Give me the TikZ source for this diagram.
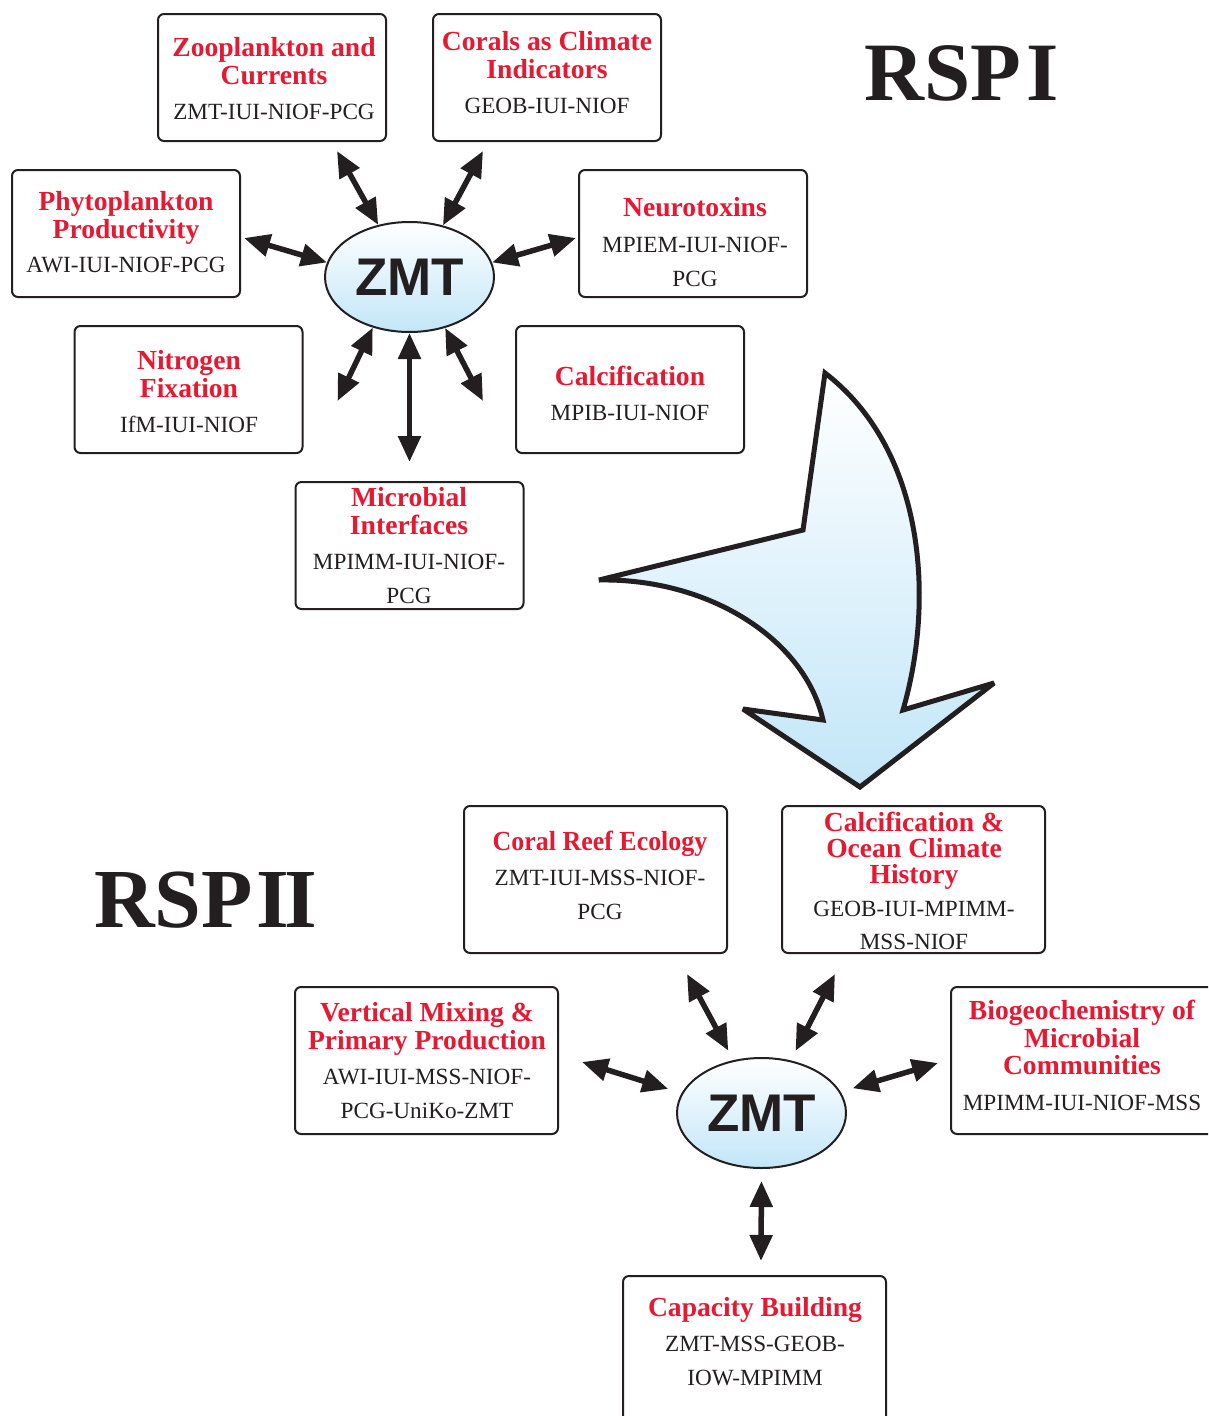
\documentclass[tikz,border=0pt]{standalone}
\usepackage{fontspec}
\setmainfont{Liberation Serif}
\newfontfamily\zmtfont{Liberation Sans}
\usetikzlibrary{arrows.meta,shapes.geometric,calc}
\definecolor{ttlred}{RGB}{230,25,50}
\definecolor{ink}{RGB}{35,31,32}
\definecolor{lblue}{RGB}{194,230,248}
\begin{document}
\begin{tikzpicture}[x=1pt,y=-1pt,
  boxA/.style={draw=ink,line width=2pt,rounded corners=6pt,fill=white,minimum width=228pt,minimum height=127pt,inner sep=0pt},
  boxB/.style={draw=ink,line width=2pt,rounded corners=6pt,fill=white,minimum width=263pt,minimum height=147pt,inner sep=0pt},
  ttl/.style={anchor=base,inner sep=0pt,text=ttlred,font=\fontsize{27.6}{27.6}\selectfont\bfseries},
  code/.style={anchor=base,inner sep=0pt,text=ink,font=\fontsize{23.2}{23.2}\selectfont},
  hub/.style={ellipse,draw=ink,line width=2pt,minimum width=169pt,minimum height=110pt,inner sep=0pt,
    top color=white,bottom color=lblue,text=ink,font=\fontsize{53}{53}\selectfont\zmtfont\bfseries},
  rsp/.style={anchor=base west,inner sep=0pt,text=ink,font=\bfseries},
  link/.style={draw=ink,line width=5.5pt,arrows={Triangle[length=26pt,width=22pt]-Triangle[length=26pt,width=22pt]}}
]
\useasboundingbox (0,0) rectangle (1208,1416);
\fill[white] (0,0) rectangle (1208,1416);
\clip (0,0) rectangle (1208,1416);

% ---------- big curved arrow ----------
\path[draw=ink,line width=5pt,line join=miter,miter limit=3,top color=white,bottom color=lblue]
  (825,373) -- (803,530) -- (599,580)
  .. controls (710,578) and (805,640) .. (823,720)
  -- (743,709) -- (860,787) -- (994,683) -- (903,710)
  .. controls (935,600) and (925,450) .. (825,373) -- cycle;

% ---------- RSP I ----------
\node[boxA] (zoo) at (272,77.5) {};
\node[boxA] (cor) at (547,77.5) {};
\node[boxA] (phy) at (126,233.5) {};
\node[boxA] (neu) at (693,233.5) {};
\node[boxA] (nit) at (188.5,389.5) {};
\node[boxA] (cal) at (630,389.5) {};
\node[boxA] (mic) at (409.5,545.5) {};
\node[hub] (zmtA) at (409.5,277) {ZMT};

\node[ttl] (zooa) at (274,56.5) {Zooplankton and};
\node[ttl] (zoob) at (274,84.5) {Currents};
\node[code] (zooc) at (274,119.5) {ZMT-IUI-NIOF-PCG};

\node[ttl] (cora) at (547,50.5) {Corals as Climate};
\node[ttl] (corb) at (547,78.5) {Indicators};
\node[code] (corc) at (547,113.5) {GEOB-IUI-NIOF};

\node[ttl] (phya) at (126,210.5) {Phytoplankton};
\node[ttl] (phyb) at (126,238.5) {Productivity};
\node[code] (phyc) at (126,272.5) {AWI-IUI-NIOF-PCG};

\node[ttl] (neua) at (695,216.5) {Neurotoxins};
\node[code] (neub) at (695,252.5) {MPIEM-IUI-NIOF-};
\node[code] (neuc) at (695,286.5) {PCG};

\node[ttl] (nita) at (189,369.5) {Nitrogen};
\node[ttl] (nitb) at (189,397.5) {Fixation};
\node[code] (nitc) at (189,432.5) {IfM-IUI-NIOF};

\node[ttl] (cala) at (630,385.5) {Calcification};
\node[code] (calb) at (630,420.5) {MPIB-IUI-NIOF};

\node[ttl] (mica) at (409,506.5) {Microbial};
\node[ttl] (micb) at (409,534.5) {Interfaces};
\node[code] (micc) at (409,569.5) {MPIMM-IUI-NIOF-};
\node[code] (micd) at (409,603.5) {PCG};

\draw[link] (zmtA.121.3) -- ([xshift=65pt,yshift=-9pt]zoo.south);
\draw[link] (zmtA.57.2) -- ([xshift=-64pt,yshift=-9pt]cor.south);
\draw[link] (zmtA.170.4) -- ([xshift=3pt,yshift=-4.5pt]phy.east);
\draw[link] (zmtA.10.3) -- ([xshift=-2pt,yshift=-4.5pt]neu.west);
\draw[link] (zmtA.234.1) -- ([xshift=34pt,yshift=-11.5pt]nit.east);
\draw[link] (zmtA.305.1) -- ([xshift=-32pt,yshift=-11.5pt]cal.west);
\draw[link] (zmtA.south) -- ([yshift=19pt]mic.north);

\node[rsp] (rspA) at (864,100) {\fontsize{83}{83}\selectfont RSP\kern6pt I};

% ---------- RSP II ----------
\node[boxB] (crf) at (595.5,879.5) {};
\node[boxB] (coc) at (913.5,879.5) {};
\node[boxB] (vmx) at (426.5,1060.5) {};
\node[boxB] (bgc) at (1082.5,1060.5) {};
\node[boxB] (cap) at (754.5,1349.5) {};
\node[hub] (zmtB) at (761.5,1113) {ZMT};

\node[ttl] (crfa) at (600,850.5) {\scalebox{0.94}[1]{Coral Reef Ecology}};
\node[code] (crfb) at (600,885.5) {ZMT-IUI-MSS-NIOF-};
\node[code] (crfc) at (600,919.5) {PCG};

\node[ttl] (coca) at (914,831.5) {Calcification \&};
\node[ttl] (cocb) at (914,857.5) {Ocean Climate};
\node[ttl] (cocc) at (914,883.5) {History};
\node[code] (cocd) at (914,916.5) {GEOB-IUI-MPIMM-};
\node[code] (coce) at (914,949.5) {MSS-NIOF};

\node[ttl] (vmxa) at (427,1021.5) {Vertical Mixing \&};
\node[ttl] (vmxb) at (427,1049.5) {Primary Production};
\node[code] (vmxc) at (427,1084.5) {AWI-IUI-MSS-NIOF-};
\node[code] (vmxd) at (427,1118.5) {PCG-UniKo-ZMT};

\node[ttl] (bgca) at (1082,1019.5) {Biogeochemistry of};
\node[ttl] (bgcb) at (1082,1047.5) {Microbial};
\node[ttl] (bgcc) at (1082,1074.5) {Communities};
\node[code] (bgcd) at (1082,1110.5) {MPIMM-IUI-NIOF-MSS};

\node[ttl] (capa) at (755,1316.5) {Capacity Building};
\node[code] (capb) at (755,1351.5) {ZMT-MSS-GEOB-};
\node[code] (capc) at (755,1385.5) {IOW-MPIMM};

\draw[link,shorten <=10.7pt] (zmtB.118.7) -- ([xshift=91.5pt,yshift=-20pt]crf.south);
\draw[link,shorten <=10.7pt] (zmtB.61.3) -- ([xshift=-78.5pt,yshift=-20pt]coc.south);
\draw[link,shorten <=14pt] (zmtB.166.7) -- ([xshift=23pt,yshift=-1.5pt]vmx.east);
\draw[link,shorten <=12.5pt] (zmtB.15) -- ([xshift=-12pt,yshift=-2.5pt]bgc.west);
\draw[link,shorten <=12pt] (zmtB.south) -- ([xshift=6.5pt,yshift=14pt]cap.north);

\node[rsp] (rspB) at (94,927) {\fontsize{84}{84}\selectfont RSP\kern4pt I\kern-5pt I};
\end{tikzpicture}
\end{document}
